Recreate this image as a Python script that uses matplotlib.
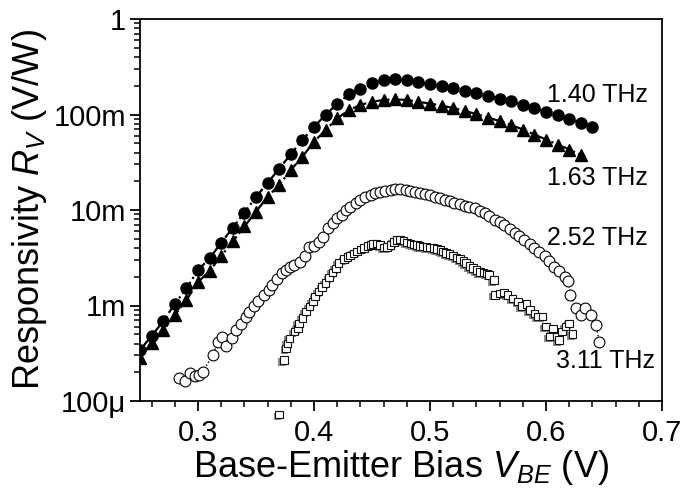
import matplotlib
matplotlib.use("Agg")
import matplotlib.pyplot as plt
import matplotlib.patheffects as pe
from matplotlib.ticker import FixedLocator, FixedFormatter, MultipleLocator, LogLocator, NullFormatter

plt.rcParams['font.family'] = ['Liberation Sans', 'DejaVu Sans']
plt.rcParams['mathtext.fontset'] = 'custom'
plt.rcParams['mathtext.rm'] = 'Liberation Sans'
plt.rcParams['mathtext.it'] = 'Liberation Sans:italic'

# ---- data (V_BE in volts, responsivity in V/W) ----
v_140 = [0.25, 0.26, 0.27, 0.28, 0.29, 0.30, 0.31, 0.32, 0.33, 0.34,
         0.35, 0.36, 0.37, 0.38, 0.39, 0.40, 0.41, 0.42, 0.43, 0.44,
         0.45, 0.46, 0.47, 0.48, 0.49, 0.50, 0.51, 0.52, 0.53, 0.54,
         0.55, 0.56, 0.57, 0.58, 0.59, 0.60, 0.61, 0.62, 0.63, 0.64]
r_140 = [3.42e-4, 4.80e-4, 6.84e-4, 1.04e-3, 1.51e-3, 2.35e-3, 3.12e-3, 4.54e-3, 6.53e-3, 9.41e-3,
         1.37e-2, 1.92e-2, 2.71e-2, 3.83e-2, 5.41e-2, 7.40e-2, 9.95e-2, 0.129, 0.162, 0.187,
         0.214, 0.228, 0.234, 0.230, 0.219, 0.209, 0.199, 0.189, 0.178, 0.168,
         0.158, 0.147, 0.137, 0.126, 0.117, 0.107, 0.0988, 0.0908, 0.0815, 0.0740]

v_163 = [0.25, 0.26, 0.27, 0.28, 0.29, 0.30, 0.31, 0.32, 0.33, 0.34,
         0.35, 0.36, 0.37, 0.38, 0.39, 0.40, 0.41, 0.42, 0.43, 0.44,
         0.45, 0.46, 0.47, 0.48, 0.49, 0.50, 0.51, 0.52, 0.53, 0.54,
         0.55, 0.56, 0.57, 0.58, 0.59, 0.60, 0.61, 0.62, 0.63]
r_163 = [2.82e-4, 4.05e-4, 5.53e-4, 7.96e-4, 1.14e-3, 1.76e-3, 2.30e-3, 3.30e-3, 4.68e-3, 6.72e-3,
         9.59e-3, 1.38e-2, 1.83e-2, 2.62e-2, 3.61e-2, 5.19e-2, 6.88e-2, 9.12e-2, 0.111, 0.126,
         0.136, 0.142, 0.144, 0.142, 0.136, 0.130, 0.124, 0.117, 0.109, 0.101,
         0.0929, 0.0855, 0.0776, 0.0696, 0.0617, 0.0547, 0.0485, 0.0430, 0.0377]

v_252 = [0.284, 0.289, 0.293, 0.297, 0.301, 0.304, 0.313, 0.317, 0.321, 0.324,
         0.329, 0.333, 0.337, 0.341, 0.344, 0.348, 0.352, 0.357, 0.361, 0.364,
         0.368, 0.372, 0.376, 0.379, 0.383, 0.388, 0.392, 0.396, 0.400, 0.404,
         0.408, 0.412, 0.416, 0.420, 0.424, 0.428, 0.431, 0.436, 0.440, 0.444,
         0.449, 0.453, 0.457, 0.461, 0.466, 0.470, 0.474, 0.479, 0.483, 0.487,
         0.491, 0.496, 0.500, 0.504, 0.509, 0.513, 0.517, 0.521, 0.526, 0.530,
         0.534, 0.539, 0.543, 0.547, 0.551, 0.556, 0.560, 0.564, 0.569, 0.573,
         0.577, 0.581, 0.586, 0.590, 0.594, 0.599, 0.603, 0.607, 0.611, 0.616,
         0.619, 0.621, 0.626, 0.630, 0.634, 0.639, 0.643, 0.646]
r_252 = [1.73e-4, 1.63e-4, 1.95e-4, 1.83e-4, 1.87e-4, 2.03e-4, 3.03e-4, 4.18e-4, 4.71e-4, 3.77e-4,
         4.54e-4, 5.54e-4, 6.40e-4, 7.52e-4, 8.61e-4, 9.88e-4, 1.12e-3, 1.29e-3, 1.45e-3, 1.64e-3,
         1.88e-3, 2.17e-3, 2.35e-3, 2.55e-3, 2.65e-3, 2.87e-3, 3.30e-3, 4.13e-3, 4.20e-3, 4.66e-3,
         5.25e-3, 6.43e-3, 7.26e-3, 8.19e-3, 8.87e-3, 1.00e-2, 1.08e-2, 1.18e-2, 1.27e-2, 1.38e-2,
         1.44e-2, 1.52e-2, 1.56e-2, 1.59e-2, 1.62e-2, 1.65e-2, 1.65e-2, 1.62e-2, 1.59e-2, 1.56e-2,
         1.52e-2, 1.47e-2, 1.42e-2, 1.37e-2, 1.32e-2, 1.27e-2, 1.23e-2, 1.18e-2, 1.15e-2, 1.11e-2,
         1.07e-2, 1.04e-2, 9.88e-3, 9.30e-3, 8.55e-3, 7.86e-3, 7.40e-3, 6.89e-3, 6.33e-3, 5.81e-3,
         5.34e-3, 4.80e-3, 4.41e-3, 4.00e-3, 3.63e-3, 3.26e-3, 2.89e-3, 2.56e-3, 2.27e-3, 2.01e-3,
         1.81e-3, 1.29e-3, 9.35e-4, 7.96e-4, 9.35e-4, 7.96e-4, 6.25e-4, 4.18e-4]

v_311 = [0.370, 0.374, 0.376, 0.377, 0.379, 0.383, 0.386, 0.387, 0.390, 0.393,
         0.396, 0.399, 0.401, 0.404, 0.407, 0.410, 0.413, 0.416, 0.419, 0.421,
         0.426, 0.429, 0.431, 0.434, 0.437, 0.440, 0.443, 0.446, 0.449, 0.451,
         0.454, 0.457, 0.460, 0.463, 0.466, 0.469, 0.471, 0.474, 0.477, 0.480,
         0.483, 0.486, 0.489, 0.491, 0.494, 0.497, 0.500, 0.503, 0.506, 0.509,
         0.511, 0.514, 0.517, 0.520, 0.523, 0.526, 0.529, 0.531, 0.534, 0.537,
         0.540, 0.543, 0.546, 0.549, 0.551, 0.555, 0.556, 0.560, 0.564, 0.567,
         0.571, 0.576, 0.579, 0.583, 0.586, 0.590, 0.593, 0.597, 0.600, 0.603,
         0.606, 0.609, 0.611, 0.614, 0.617, 0.620, 0.623]
r_311 = [7.2e-5, 2.69e-4, 3.56e-4, 4.02e-4, 4.54e-4, 5.32e-4, 5.77e-4, 6.51e-4, 7.40e-4, 8.61e-4,
         9.71e-4, 1.10e-3, 1.24e-3, 1.40e-3, 1.57e-3, 1.71e-3, 1.96e-3, 2.22e-3, 2.45e-3, 2.77e-3,
         3.07e-3, 3.22e-3, 3.34e-3, 3.52e-3, 3.68e-3, 3.86e-3, 4.00e-3, 4.20e-3, 4.30e-3, 4.41e-3,
         4.46e-3, 4.30e-3, 4.05e-3, 4.10e-3, 4.30e-3, 4.62e-3, 4.85e-3, 4.91e-3, 4.77e-3, 4.57e-3,
         4.46e-3, 4.35e-3, 4.30e-3, 4.20e-3, 4.15e-3, 4.10e-3, 4.05e-3, 4.00e-3, 3.91e-3, 3.81e-3,
         3.68e-3, 3.55e-3, 3.46e-3, 3.34e-3, 3.18e-3, 3.07e-3, 2.92e-3, 2.79e-3, 2.59e-3, 2.47e-3,
         2.35e-3, 2.24e-3, 2.22e-3, 2.16e-3, 2.09e-3, 1.85e-3, 1.29e-3, 1.34e-3, 1.36e-3, 1.29e-3,
         1.19e-3, 1.10e-3, 9.88e-4, 1.04e-3, 8.97e-4, 8.28e-4, 7.64e-4, 7.64e-4, 6.00e-4, 4.71e-4,
         5.77e-4, 4.71e-4, 4.35e-4, 5.32e-4, 6.00e-4, 6.51e-4, 5.03e-4]

freq_labels = ["1.40 THz", "1.63 THz", "2.52 THz", "3.11 THz"]
label_x = [0.601, 0.601, 0.601, 0.609]
label_y = [0.136, 0.0183, 4.30e-3, 2.22e-4]

x_ticks = [0.3, 0.4, 0.5, 0.6, 0.7]
x_ticklabels = ["0.3", "0.4", "0.5", "0.6", "0.7"]
y_ticks = [1e-4, 1e-3, 1e-2, 1e-1, 1]
y_ticklabels = ["100\u03bc", "1m", "10m", "100m", "1"]

# ---- figure ----
fig = plt.figure(figsize=(6.81, 4.88), dpi=100)
ax = fig.add_axes([140/681, 1 - 401/488, 522/681, 382/488])

ax.plot(v_311, r_311, linestyle='none', marker='s', ms=5.4, mfc='white',
        mec='#111111', mew=0.8, clip_on=False, zorder=2,
        path_effects=[pe.SimplePatchShadow(offset=(-1.3, -1.3), shadow_rgbFace='#8a8a8a', alpha=1.0),
                      pe.Normal()])
ax.plot(v_252, r_252, linestyle=':', color='black', lw=1.0, marker='o', ms=7.8,
        mfc='white', mec='black', mew=0.8, zorder=3)
ax.plot(v_163, r_163, linestyle='-.', color='black', lw=1.6, marker='^', ms=8.3,
        mfc='black', mec='black', zorder=4)
ax.plot(v_140, r_140, linestyle='-.', color='black', lw=1.6, marker='o', ms=8.0,
        mfc='black', mec='black', zorder=5)

for t, lx, ly in zip(freq_labels, label_x, label_y):
    ax.text(lx, ly, t, fontsize=18, ha='left', va='baseline')

ax.set_xscale('linear')
ax.set_yscale('log')
ax.set_xlim(0.25, 0.70)
ax.set_ylim(1e-4, 1)

ax.xaxis.set_major_locator(FixedLocator(x_ticks))
ax.xaxis.set_major_formatter(FixedFormatter(x_ticklabels))
ax.xaxis.set_minor_locator(MultipleLocator(0.02))
ax.yaxis.set_major_locator(FixedLocator(y_ticks))
ax.yaxis.set_major_formatter(FixedFormatter(y_ticklabels))
ax.yaxis.set_minor_locator(LogLocator(base=10, subs=range(2, 10)))
ax.yaxis.set_minor_formatter(NullFormatter())

ax.tick_params(axis='both', which='major', direction='out', length=7, width=1.3,
               labelsize=21, color='black')
ax.tick_params(axis='both', which='minor', direction='out', length=4, width=1.1)
ax.tick_params(axis='x', which='major', pad=6)
ax.tick_params(axis='y', which='major', pad=3)
for s in ax.spines.values():
    s.set_linewidth(1.3)

ax.set_xlabel(r"Base-Emitter Bias $V_{BE}$ (V)", fontsize=26, labelpad=0.5)
ax.set_ylabel(r"Responsivity $R_V$ (V/W)", fontsize=26, labelpad=3)

fig.savefig("out.png", dpi=100)
